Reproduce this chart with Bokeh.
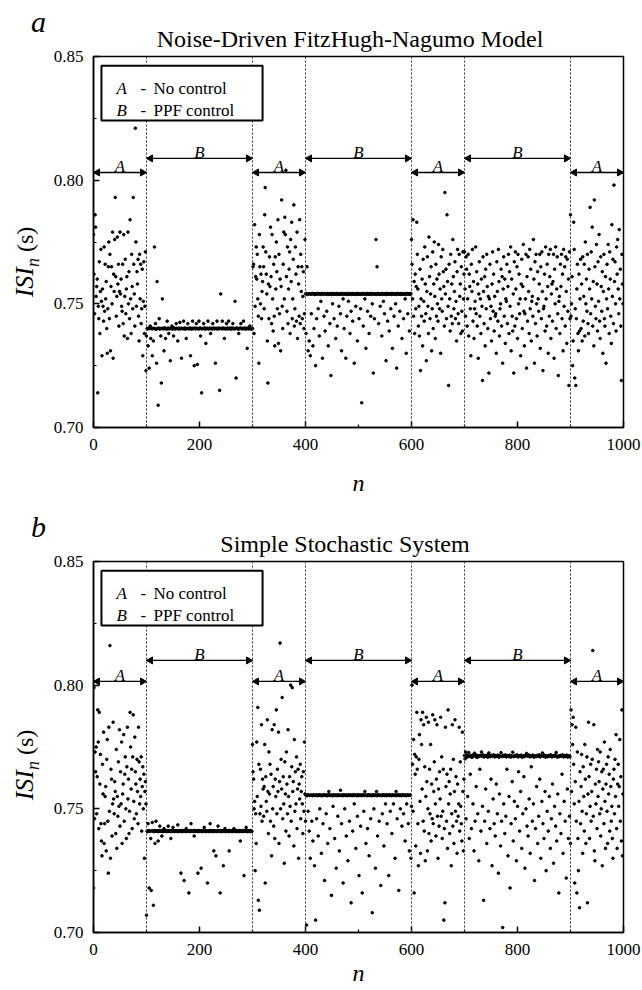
import numpy as np
from bokeh.plotting import figure
from bokeh.models import (Range1d, FixedTicker, PrintfTickFormatter, Span, Label, BoxAnnotation, Div)
from bokeh.layouts import column, row
from bokeh.embed import file_html
from bokeh.resources import INLINE

# ---------------- data (ISI values in ms) ----------------
bounds = [0, 100, 300, 400, 600, 700, 900, 1000]
seg_labels = ["A", "B", "A", "B", "A", "B", "A"]
x_ticks = [0, 200, 400, 600, 800, 1000]
x_minor = [100, 300, 500, 700, 900]
y_ticks = [0.70, 0.75, 0.80, 0.85]
y_minor = [0.725, 0.775, 0.825]

# Panel a: Noise-Driven FitzHugh-Nagumo Model
a_A1 = [778, 762, 746, 786, 781, 753, 757, 760, 714, 749,
        744, 767, 738, 755, 772, 751, 729, 756, 749, 743,
        773, 747, 766, 752, 759, 740, 730, 748, 765, 775,
        744, 770, 731, 757, 765, 750, 779, 728, 762, 755,
        776, 793, 761, 745, 753, 777, 758, 766, 741, 755,
        779, 754, 760, 749, 747, 766, 742, 778, 737, 753,
        768, 746, 756, 761, 736, 779, 750, 763, 744, 784,
        752, 738, 770, 757, 748, 793, 766, 754, 741, 821,
        775, 749, 763, 758, 768, 745, 735, 770, 752, 766,
        742, 748, 764, 729, 751, 767, 738, 749, 771, 723]
a_B1 = [737, 740, 739.8, 733, 740.2, 724, 740, 741, 736, 740.3, 739.9, 729, 740, 735, 740.1, 773, 740, 742, 739.7, 726,
        759, 740, 709, 740.2, 744, 739.8, 740, 737, 718, 740.1, 752, 740, 739.9, 731, 740.3, 740, 736, 740, 739.8, 743,
        740, 740.2, 738, 739.9, 740, 727, 740.1, 740, 741, 739.8, 740, 737, 740.2, 740, 739.9, 740, 742, 740.1, 740, 735,
        740, 739.8, 740.2, 742.5, 740, 740, 728, 740.1, 739.9, 740, 743, 740, 740.2, 739.8, 740, 736, 740, 740.1, 742, 740,
        739.9, 740, 740.2, 729, 740, 739.8, 740.1, 743, 740, 740, 725, 740.2, 739.9, 740, 742, 740.1, 725.5, 740, 739.8, 743,
        740, 740.2, 737, 740, 714, 739.9, 740.1, 740, 742, 740, 740.2, 739.8, 734, 740, 740.1, 740, 743, 739.9, 740, 740.2,
        740, 738, 740.1, 739.8, 740, 742, 740, 740.2, 739.9, 740, 726, 740.1, 740, 743, 739.8, 740, 740.2, 740, 715, 740.1,
        754, 740, 739.9, 743, 740.2, 740, 740, 736, 740.1, 739.8, 740, 742, 740, 740.2, 739.9, 743, 740, 740.1, 740, 740,
        739.8, 740.2, 740, 742, 740.1, 740, 739.9, 751, 740, 720, 740.2, 740, 740.1, 739.8, 738, 740, 740, 740.2, 742, 740,
        740.1, 739.9, 740, 743, 740, 740.2, 740, 739.8, 740.1, 740, 732, 740, 740.2, 739.9, 740, 741, 740.1, 740, 739.8, 740]
a_A2 = [740, 765, 766, 738, 782, 749, 761, 773, 760, 770,
        752, 745, 726, 778, 765, 750, 762, 744, 755, 759,
        773, 765, 748, 786, 797, 771, 762, 754, 735, 718,
        758, 744, 769, 757, 781, 761, 742, 778, 752, 739,
        766, 745, 733, 769, 756, 775, 763, 748, 784, 734,
        770, 746, 760, 731, 757, 792, 749, 740, 766, 779,
        752, 785, 778, 804, 761, 747, 773, 742, 756, 764,
        771, 738, 776, 759, 783, 744, 752, 768, 790, 741,
        748, 773, 762, 743, 779, 736, 765, 758, 745, 784,
        742, 770, 755, 765, 744, 753, 763, 740, 746, 776]
a_B2 = [754, 738, 754.2, 765, 753.8, 731, 754, 735, 754.1, 729, 753.9, 746, 754, 754.2, 733, 754, 740, 753.8, 754.1, 725,
        754, 744, 753.9, 754.2, 748, 754, 737, 754.1, 753.8, 751, 754, 754.2, 728, 753.9, 754, 745, 754.1, 739, 754, 753.8,
        747, 754.2, 754, 733, 753.9, 754.1, 742, 754, 721, 753.8, 754.2, 750, 754, 753.9, 744, 754.1, 754, 736, 753.8, 754.2,
        741, 754, 753.9, 749, 754.1, 754, 746, 753.8, 731, 754.2, 754, 752, 753.9, 740, 754.1, 754, 728, 753.8, 745, 754.2,
        754, 751, 753.9, 754.1, 738, 754, 747, 753.8, 754.2, 743, 754, 753.9, 726, 754.1, 754, 749, 753.8, 754.2, 735, 754,
        753.9, 744, 754.1, 754, 748, 753.8, 710, 754.2, 754, 741, 753.9, 754.1, 752, 754, 732, 753.8, 754.2, 747, 754, 753.9,
        738, 754.1, 754, 745, 753.8, 754.2, 750, 754, 722, 753.9, 744, 754.1, 754, 776, 753.8, 765, 754.2, 754, 742, 753.9,
        754.1, 749, 754, 753.8, 737, 754.2, 754, 751, 753.9, 746, 754.1, 754, 727, 753.8, 754.2, 743, 754, 753.9, 739, 754.1,
        754, 748, 753.8, 754.2, 732, 754, 753.9, 745, 754.1, 754, 750, 753.8, 724, 754.2, 754, 741, 753.9, 754.1, 747, 754,
        753.8, 754.2, 736, 754, 753.9, 744, 754.1, 754, 752, 753.8, 730, 754.2, 754, 746, 753.9, 754.1, 739, 754, 753.8, 754.2]
a_A3 = [776, 766, 752, 784, 745, 759, 738, 762, 748, 757,
        783, 770, 756, 741, 749, 737, 764, 723, 752, 745,
        760, 733, 768, 751, 743, 773, 758, 746, 727, 755,
        769, 749, 738, 777, 761, 744, 754, 765, 731, 748,
        771, 740, 758, 775, 753, 736, 766, 745, 760, 750,
        743, 774, 762, 748, 756, 730, 769, 752, 747, 772,
        763, 757, 741, 795, 754, 764, 744, 786, 759, 749,
        717, 766, 752, 739, 770, 745, 758, 742, 776, 761,
        748, 755, 767, 744, 751, 735, 763, 772, 746, 742,
        770, 753, 758, 738, 765, 747, 739, 771, 752, 762]
a_B3 = [771, 756, 745, 769, 764, 741, 752, 770, 737, 762, 757, 748, 729, 766, 755, 772, 743, 759, 736, 748,
        751, 773, 746, 763, 741, 758, 728, 754, 767, 745, 752, 738, 760, 749, 719, 769, 755, 742, 761, 733,
        764, 748, 770, 757, 740, 753, 722, 752, 766, 744, 749, 735, 758, 771, 747, 762, 739, 753, 745, 746,
        730, 767, 755, 743, 772, 759, 737, 748, 750, 764, 741, 761, 726, 756, 769, 745, 760, 734, 752, 751,
        766, 742, 757, 770, 738, 763, 749, 773, 731, 760, 745, 739, 754, 722, 767, 741, 771, 756, 744, 765,
        736, 770, 750, 762, 746, 752, 729, 758, 768, 740, 757, 774, 747, 733, 746, 752, 770, 724, 761, 743,
        769, 755, 738, 772, 748, 764, 735, 751, 753, 745, 776, 760, 726, 767, 742, 770, 750, 737, 763, 752,
        747, 758, 770, 732, 765, 744, 771, 755, 723, 748, 749, 762, 739, 773, 752, 741, 766, 757, 730, 770,
        745, 761, 772, 736, 754, 758, 743, 759, 770, 728, 764, 750, 773, 740, 756, 769, 746, 721, 751, 753,
        738, 766, 757, 770, 744, 762, 731, 772, 749, 765, 741, 769, 755, 734, 768, 747, 760, 717, 771, 744]
a_A4 = [786, 745, 750, 761, 725, 735, 783, 772, 720, 748,
        717, 744, 756, 766, 738, 731, 762, 739, 752, 768,
        740, 758, 735, 769, 743, 753, 766, 737, 775, 750,
        760, 747, 770, 742, 738, 764, 756, 789, 746, 771,
        752, 781, 741, 759, 733, 792, 765, 749, 744, 774,
        758, 739, 767, 751, 778, 743, 736, 769, 757, 747,
        763, 730, 755, 770, 744, 741, 761, 726, 752, 766,
        748, 774, 756, 738, 771, 760, 745, 734, 782, 753,
        768, 742, 798, 759, 767, 750, 739, 773, 762, 776,
        756, 746, 780, 752, 764, 741, 719, 770, 758, 750]

# Panel b: Simple Stochastic System
b_A1 = [718, 799, 746, 773, 765, 775, 748, 763, 790, 777,
        742, 789, 760, 772, 744, 737, 731, 768, 756, 781,
        736, 744, 755, 759, 733, 770, 778, 745, 724, 783,
        749, 816, 730, 766, 762, 739, 752, 785, 754, 748,
        761, 757, 740, 774, 734, 755, 747, 769, 751, 782,
        743, 765, 752, 777, 736, 756, 760, 780, 745, 764,
        771, 750, 738, 767, 783, 754, 762, 740, 749, 789,
        775, 758, 766, 742, 771, 788, 753, 746, 779, 765,
        760, 748, 770, 757, 744, 783, 769, 752, 762, 755,
        771, 741, 759, 767, 750, 764, 730, 757, 761, 752]
b_B1 = [707, 741, 740.8, 744, 741.2, 718, 741, 740.9, 738, 717, 741.1, 744.5, 741, 711, 740.8, 741.2, 736, 741, 745, 740.9,
        741.1, 741, 737, 740.8, 741.2, 743, 741, 740.9, 741.1, 739, 741, 740.8, 741.2, 742, 741, 740.9, 741.1, 741, 740.8, 741.2,
        741, 743, 740.9, 741.1, 741, 740.8, 738, 741.2, 741, 740.9, 742.5, 741.1, 741, 740.8, 741.2, 741, 740.9, 741.1, 741, 743.5,
        740.8, 741.2, 741, 740.9, 741.1, 724, 741, 740.8, 741.2, 741, 740.9, 721, 741.1, 741, 740.8, 742, 741.2, 741, 740.9, 741.1,
        716, 741, 740.8, 741.2, 744, 741, 740.9, 741.1, 741, 740.8, 739, 741.2, 741, 740.9, 741.1, 741, 740.8, 724, 741.2, 741,
        740.9, 741.1, 741, 726, 740.8, 741.2, 741, 740.9, 741.1, 742.5, 741, 740.8, 741.2, 741, 740.9, 720, 741.1, 741, 740.8, 741.2,
        744, 741, 740.9, 741.1, 741, 740.8, 741.2, 733, 741, 740.9, 741.1, 731, 741, 740.8, 741.2, 743, 741, 740.9, 741.1, 716,
        741, 740.8, 741.2, 741, 740.9, 727, 741.1, 741, 742, 740.8, 741.2, 741, 740.9, 741.1, 741, 740.8, 733, 741.2, 741, 740.9,
        741.1, 741, 740.8, 741.2, 741, 742, 740.9, 741.1, 741, 740.8, 741.2, 741, 740.9, 741.1, 741, 740.8, 741.2, 737, 741, 740.9,
        741.1, 741, 740.8, 741.2, 723, 741, 740.9, 741.1, 742.5, 741, 740.8, 741.2, 741, 740.9, 741.1, 741, 740.8, 741.2, 741, 740.9]
b_A2 = [776, 765, 762, 750, 753, 725, 748, 736, 777, 755,
        791, 713, 768, 709, 748, 766, 751, 784, 745, 762,
        758, 747, 759, 776, 720, 763, 753, 749, 786, 757,
        740, 773, 756, 768, 745, 764, 731, 782, 750, 759,
        743, 784, 738, 762, 755, 790, 748, 766, 757, 781,
        736, 761, 817, 750, 770, 758, 795, 746, 763, 752,
        728, 769, 756, 741, 773, 760, 748, 782, 755, 739,
        763, 751, 800, 745, 767, 799, 757, 761, 735, 778,
        749, 765, 752, 771, 742, 758, 766, 730, 760, 754,
        768, 746, 757, 763, 752, 740, 765, 749, 777, 756]
b_B2 = [745, 755.5, 703, 755.3, 755.7, 749, 755.5, 741, 755.4, 730, 755.6, 755.5, 745, 755.3, 737, 755.7, 755.5, 727, 755.4, 705,
        755.6, 746, 755.5, 755.3, 739, 755.7, 755.5, 750, 755.4, 755.6, 732, 755.5, 755.3, 744, 755.7, 755.5, 721, 755.4, 755.6, 748,
        755.5, 755.3, 736, 755.7, 757, 755.5, 742, 755.4, 755.6, 715, 755.5, 755.3, 751, 755.7, 755.5, 738, 755.4, 755.6, 726, 755.5,
        755.3, 747, 755.7, 755.5, 733, 755.4, 757.5, 755.6, 744, 755.5, 755.3, 720, 755.7, 755.5, 750, 755.4, 755.6, 739, 755.5, 755.3,
        729, 755.7, 755.5, 745, 755.4, 755.6, 712, 755.5, 755.3, 741, 755.7, 755.5, 752, 755.4, 755.6, 734, 755.5, 755.3, 747, 755.7,
        755.5, 723, 755.4, 755.6, 743, 755.5, 755.3, 716, 755.7, 755.5, 749, 755.4, 757, 755.6, 736, 755.5, 755.3, 742, 755.7, 755.5,
        731, 755.4, 755.6, 746, 755.5, 755.3, 708, 755.7, 755.5, 750, 755.4, 755.6, 726, 755.5, 757, 755.3, 739, 755.7, 755.5, 745,
        755.4, 755.6, 719, 755.5, 755.3, 748, 755.7, 755.5, 735, 755.4, 755.6, 752, 755.5, 755.3, 744, 755.7, 755.5, 723, 755.4, 755.6,
        749, 755.5, 755.3, 740, 755.7, 755.5, 752, 755.4, 755.6, 730, 755.5, 757, 755.3, 746, 755.7, 755.5, 717, 755.4, 755.6, 750,
        755.5, 755.3, 743, 755.7, 755.5, 748, 755.4, 755.6, 737, 755.5, 755.3, 752, 755.7, 755.5, 744, 755.4, 733, 755.6, 755.5, 730]
b_A3 = [751, 800, 768, 749, 778, 716, 772, 764, 735, 771,
        789, 766, 744, 727, 770, 780, 753, 732, 786, 776,
        758, 789, 745, 784, 741, 767, 729, 755, 787, 761,
        733, 750, 785, 740, 766, 748, 776, 737, 760, 746,
        788, 744, 757, 769, 786, 752, 739, 762, 784, 747,
        730, 758, 743, 765, 754, 787, 747, 771, 738, 749,
        766, 705, 742, 712, 783, 759, 745, 764, 734, 790,
        752, 761, 740, 756, 766, 727, 748, 784, 743, 770,
        736, 757, 786, 749, 763, 745, 732, 760, 747, 752,
        783, 741, 769, 751, 744, 737, 781, 757, 733, 762]
b_B3 = [771.5, 770.2, 773, 746, 771.8, 770.9, 755, 771.4, 772.8, 738, 771.2, 764, 771.6, 742, 770.8, 771.3, 752, 771.9, 733, 772.5,
        745, 771.1, 759, 771.7, 770.8, 748, 771.4, 729, 771.2, 766, 771.6, 741, 773, 771.3, 751, 771.8, 713, 771, 745, 771.5,
        758, 771.2, 736, 771.7, 770.9, 749, 772.6, 771.4, 742, 771.1, 762, 771.6, 727, 771.3, 754, 771.8, 744, 771, 739, 771.5,
        760, 771.2, 748, 771.7, 724, 770.9, 756, 771.4, 735, 772.7, 745, 771.1, 702, 771.6, 752, 771.3, 740, 771.8, 747, 771,
        766, 771.5, 731, 771.2, 755, 771.7, 718, 770.9, 744, 771.4, 761, 772.9, 737, 771.1, 753, 771.6, 746, 771.3, 729, 771.8,
        751, 771, 765, 771.5, 741, 771.2, 757, 771.7, 734, 770.9, 748, 771.4, 763, 771.1, 726, 771.6, 750, 772.4, 743, 771.3,
        739, 771.8, 754, 771, 732, 771.5, 767, 771.2, 745, 771.7, 752, 770.9, 721, 771.4, 742, 771.1, 759, 771.6, 736, 771.3,
        747, 771.8, 762, 771, 730, 771.5, 753, 772.6, 744, 771.2, 738, 771.7, 757, 770.9, 725, 771.4, 749, 771.1, 741, 771.6,
        755, 771.3, 734, 771.8, 746, 771, 760, 771.5, 728, 771.2, 751, 771.7, 743, 772.8, 737, 770.9, 756, 771.4, 716, 771.1,
        748, 771.6, 740, 771.3, 764, 771.8, 732, 771, 753, 771.5, 745, 771.2, 722, 771.7, 758, 770.9, 738, 771.4, 747, 771.1]
b_A4 = [736, 790, 757, 784, 776, 787, 768, 752, 720, 761,
        783, 745, 716, 773, 738, 725, 753, 710, 765, 744,
        759, 772, 749, 732, 767, 755, 741, 776, 762, 736,
        748, 771, 712, 756, 785, 763, 738, 751, 768, 745,
        757, 770, 814, 747, 784, 733, 729, 760, 752, 766,
        742, 774, 755, 769, 761, 748, 773, 739, 750, 765,
        727, 758, 766, 744, 777, 753, 734, 760, 768, 749,
        736, 771, 756, 764, 741, 774, 759, 745, 751, 738,
        730, 762, 766, 748, 770, 755, 780, 742, 734, 760,
        768, 751, 759, 778, 745, 763, 737, 790, 731, 756]

panel_a_segments = [a_A1, a_B1, a_A2, a_B2, a_A3, a_B3, a_A4]
panel_b_segments = [b_A1, b_B1, b_A2, b_B2, b_A3, b_B3, b_A4]

SERIF = "Liberation Serif"
PX_PER_N = 0.53  # 530 px frame for 1000 n
YLAB_W = 45


def lab(p, text, x, y, xo, yo, size, italic=False, align="left"):
    p.add_layout(Label(x=x, y=y, x_offset=xo, y_offset=yo, text=text,
                       text_font=SERIF, text_font_style="italic" if italic else "normal",
                       text_font_size=size, text_align=align,
                       text_baseline="alphabetic", text_color="black"))


def header(letter, title, h, letter_top, title_top, title_cx):
    html = (
        f'<div style="position:relative;width:642px;height:{h}px;overflow:visible;'
        f"font-family:'Liberation Serif',serif;color:black;line-height:1;\">"
        f'<span style="position:absolute;left:31px;top:{letter_top}px;font-size:30px;'
        f'font-style:italic;line-height:1;">{letter}</span>'
        f'<span style="position:absolute;left:{title_cx}px;top:{title_top}px;font-size:24px;'
        f'line-height:1;white-space:nowrap;transform:translateX(-50%);">{title}</span>'
        f'</div>'
    )
    return Div(text=html, width=642, height=h, margin=0,
               styles={"overflow": "visible", "z-index": "2"})


def ylabel(h, cy):
    html = (
        f'<div style="position:relative;width:{YLAB_W}px;height:{h}px;">'
        f'<div style="position:absolute;left:25px;top:{cy}px;'
        f"transform:translate(-50%,-50%) rotate(-90deg);white-space:nowrap;"
        f"font-family:'Liberation Serif',serif;color:black;line-height:1;\">"
        f'<span style="font-size:26px;font-style:italic;">ISI</span>'
        f'<span style="font-size:18px;font-style:italic;position:relative;top:6px;">n</span>'
        f'<span style="font-size:24px;">&nbsp;(s)</span>'
        f'</div></div>'
    )
    return Div(text=html, width=YLAB_W, height=h, margin=0,
               styles={"overflow": "visible"})


def build_panel(segments, height, btop, bbottom, arrow_A, arrow_B, n_standoff):
    p = figure(width=642 - YLAB_W, height=height, x_range=Range1d(0, 1000),
               y_range=Range1d(0.70, 0.85), output_backend="svg",
               toolbar_location=None, title=None,
               min_border_left=93 - YLAB_W, min_border_right=19,
               min_border_top=btop, min_border_bottom=bbottom, margin=0)
    p.grid.visible = False
    p.outline_line_color = "black"
    p.outline_line_width = 1.5
    p.background_fill_color = "white"
    p.border_fill_color = None

    p.xaxis.ticker = FixedTicker(ticks=x_ticks, minor_ticks=x_minor)
    p.yaxis.ticker = FixedTicker(ticks=y_ticks, minor_ticks=y_minor)
    p.yaxis.formatter = PrintfTickFormatter(format="%.2f")
    p.axis.axis_line_width = 1.5
    p.axis.axis_line_color = "black"
    p.axis.major_tick_in = 6
    p.axis.major_tick_out = 0
    p.axis.minor_tick_in = 3
    p.axis.minor_tick_out = 0
    p.axis.major_tick_line_width = 1.5
    p.axis.minor_tick_line_width = 1.2
    p.axis.major_tick_line_color = "black"
    p.axis.minor_tick_line_color = "black"
    p.axis.major_label_text_font = SERIF
    p.axis.major_label_text_font_size = "17px"
    p.axis.major_label_text_color = "black"
    p.xaxis.major_label_standoff = 11
    p.yaxis.major_label_standoff = 10
    p.xaxis.axis_label = "n"
    p.xaxis.axis_label_text_font = SERIF
    p.xaxis.axis_label_text_font_style = "italic"
    p.xaxis.axis_label_text_font_size = "24px"
    p.xaxis.axis_label_text_color = "black"
    p.xaxis.axis_label_standoff = n_standoff

    # points
    xs, ys = [], []
    for start, seg in zip(bounds[:-1], segments):
        xs.extend(start + np.arange(len(seg)))
        ys.extend(np.asarray(seg, dtype=float) / 1000.0)
    p.scatter(x=xs, y=ys, size=2.6, marker="circle", color="black")

    # dotted boundaries
    for b in bounds[1:-1]:
        p.add_layout(Span(location=b, dimension="height", line_color="#333333",
                          line_width=1, line_dash="2 2"))

    # segment arrows (shaft + two heads) and labels
    levels = {"A": arrow_A, "B": arrow_B}
    head = 4.0 / PX_PER_N
    x0s, x1s, ys_ar, hl, hr = [], [], [], [], []
    for b0, b1, s in zip(bounds[:-1], bounds[1:], seg_labels):
        lev = levels[s]
        x0s.append(b0)
        x1s.append(b1)
        ys_ar.append(lev)
        hl.append(b0 + head)
        hr.append(b1 - head)
        lab(p, s, (b0 + b1) / 2, lev, 0, 6, "17px", italic=True, align="center")
    p.segment(x0=x0s, y0=ys_ar, x1=x1s, y1=ys_ar, line_width=1.3, line_color="black")
    p.scatter(x=hl, y=ys_ar, marker="triangle", angle=np.pi / 2, size=7, color="black")
    p.scatter(x=hr, y=ys_ar, marker="triangle", angle=-np.pi / 2, size=7, color="black")

    # legend box
    p.add_layout(BoxAnnotation(left=15, right=319, top=0.8463, bottom=0.8241,
                               fill_color="white", fill_alpha=1.0,
                               line_color="black", line_width=2, line_alpha=1.0))
    for r, (key, txt) in enumerate([("A", "No  control"), ("B", "PPF control")]):
        yo = -32 - 22 * r
        lab(p, key, 0, 0.85, 23, yo, "17px", italic=True)
        lab(p, "-", 0, 0.85, 47, yo, "17px")
        lab(p, txt, 0, 0.85, 60, yo, "17px")
    return p


# panel a : header 0-40, figure 40-500 (frame 56-427)
ha = header("a", "Noise-Driven FitzHugh-Nagumo Model", 40, 7, 27, 350)
pa = build_panel(panel_a_segments, 460, 16, 73, 0.8031, 0.8088, 17)
ya = ylabel(460, 222)
# panel b : header 500-545, figure 545-990 (frame 561-932)
hb = header("b", "Simple Stochastic System", 45, 12, 32, 345)
pb = build_panel(panel_b_segments, 445, 16, 58, 0.8015, 0.8100, 2)
yb = ylabel(445, 220)

layout = column(ha, row(ya, pa, spacing=0), hb, row(yb, pb, spacing=0), spacing=0)
open("out.html", "w").write(file_html(layout, INLINE))
